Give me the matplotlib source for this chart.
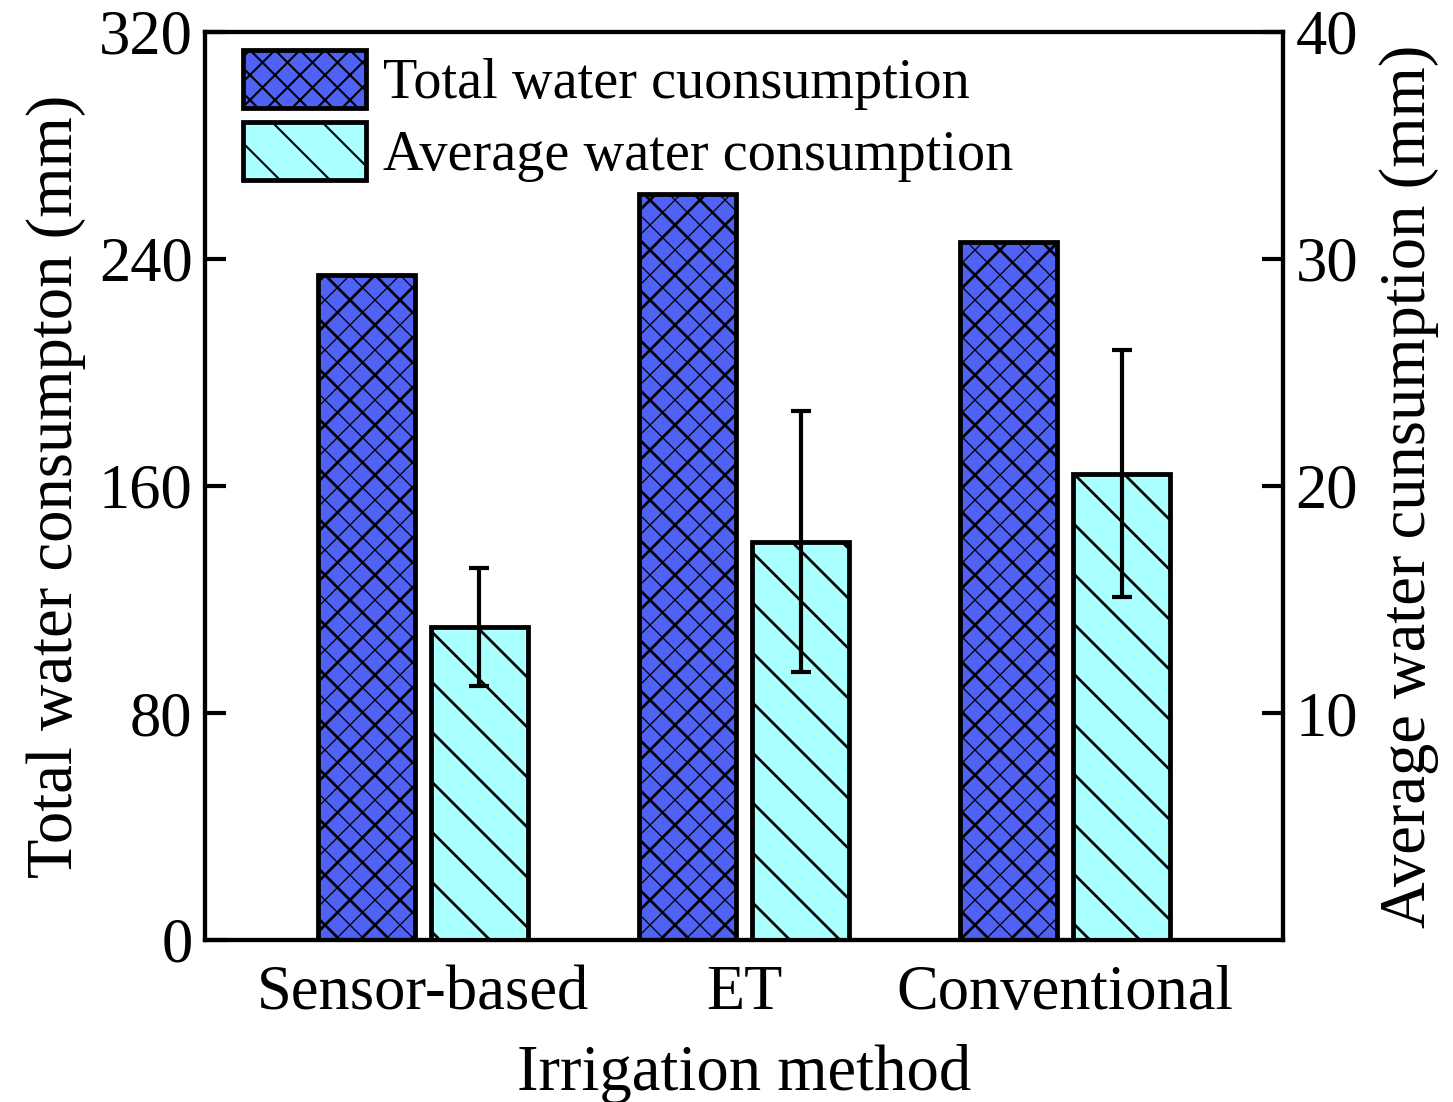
import matplotlib; matplotlib.use("Agg")
import matplotlib.pyplot as plt
from matplotlib.patches import Patch
import numpy as np

plt.rcParams["font.family"] = ["Liberation Serif", "DejaVu Serif"]

methods = ["Sensor-based", "ET", "Conventional"]
total_mm = [234.5, 263.0, 246.0]
avg_mm = [13.8, 17.55, 20.55]
avg_err = [2.6, 5.75, 5.45]

BLUE = "#4f62f4"; CYAN = "#aaffff"; EDGE = "#000000"
FS_T = 30; FS_L = 31; FS_LEG = 27; LW = 2.0

fig = plt.figure(figsize=(1453/150, 1102/150), dpi=150)
ax = fig.add_axes([205/1453, 1-940/1102, 1078/1453, 908/1102])
ax2 = ax.twinx()
x = np.arange(len(methods))
w = 0.30; off = 0.176

with plt.rc_context({"hatch.linewidth": 0.6}):
    ax.bar(x-off, total_mm, w, color=BLUE, edgecolor=EDGE, hatch="xx", linewidth=0, zorder=2)
with plt.rc_context({"hatch.linewidth": 1.3}):
    ax.bar(x-off, total_mm, w, facecolor="none", edgecolor=EDGE, hatch="x", linewidth=LW+0.3, zorder=3)
    ax2.bar(x+off, avg_mm, w, color=CYAN, edgecolor=EDGE, hatch="\\", linewidth=LW+0.3, zorder=2)
ax2.errorbar(x+off, avg_mm, yerr=avg_err, fmt="none", ecolor=EDGE, elinewidth=LW, capsize=5, capthick=LW, zorder=4)

ax.set_xlim(-0.679, 2.679)
ax.set_ylim(0, 320); ax2.set_ylim(0, 40)
ax.set_yticks([0, 80, 160, 240, 320]); ax2.set_yticks([10, 20, 30, 40])
ax.set_xticks(x); ax.set_xticklabels(methods)
ax.tick_params(axis="x", length=0, labelsize=FS_T, pad=12)
ax.tick_params(axis="y", direction="in", length=10, width=LW, labelsize=FS_T, pad=6)
ax2.tick_params(axis="y", direction="in", length=10, width=LW, labelsize=FS_T, pad=6)
for a in (ax, ax2):
    for s in a.spines.values(): s.set_linewidth(LW)
ax.set_xlabel("Irrigation method", fontsize=FS_L, labelpad=10)
ax.set_ylabel("Total water consumpton (mm)", fontsize=FS_L, labelpad=6)
ax2.set_ylabel("Average water cunsumption (mm)", fontsize=FS_L, labelpad=10)

with plt.rc_context({"hatch.linewidth": 1.0}):
    handles = [Patch(facecolor=BLUE, edgecolor=EDGE, hatch="xx", linewidth=LW+0.3),
               Patch(facecolor=CYAN, edgecolor=EDGE, hatch="\\", linewidth=LW+0.3)]
ax2.legend(handles, ["Total water cuonsumption", "Average water consumption"],
           loc="upper left", bbox_to_anchor=(0.035, 0.98), frameon=False, fontsize=FS_LEG,
           handlelength=2.2, handleheight=1.2, handletextpad=0.3, labelspacing=0.22, borderpad=0, borderaxespad=0)

fig.savefig("out.png", dpi=150, facecolor="white")
